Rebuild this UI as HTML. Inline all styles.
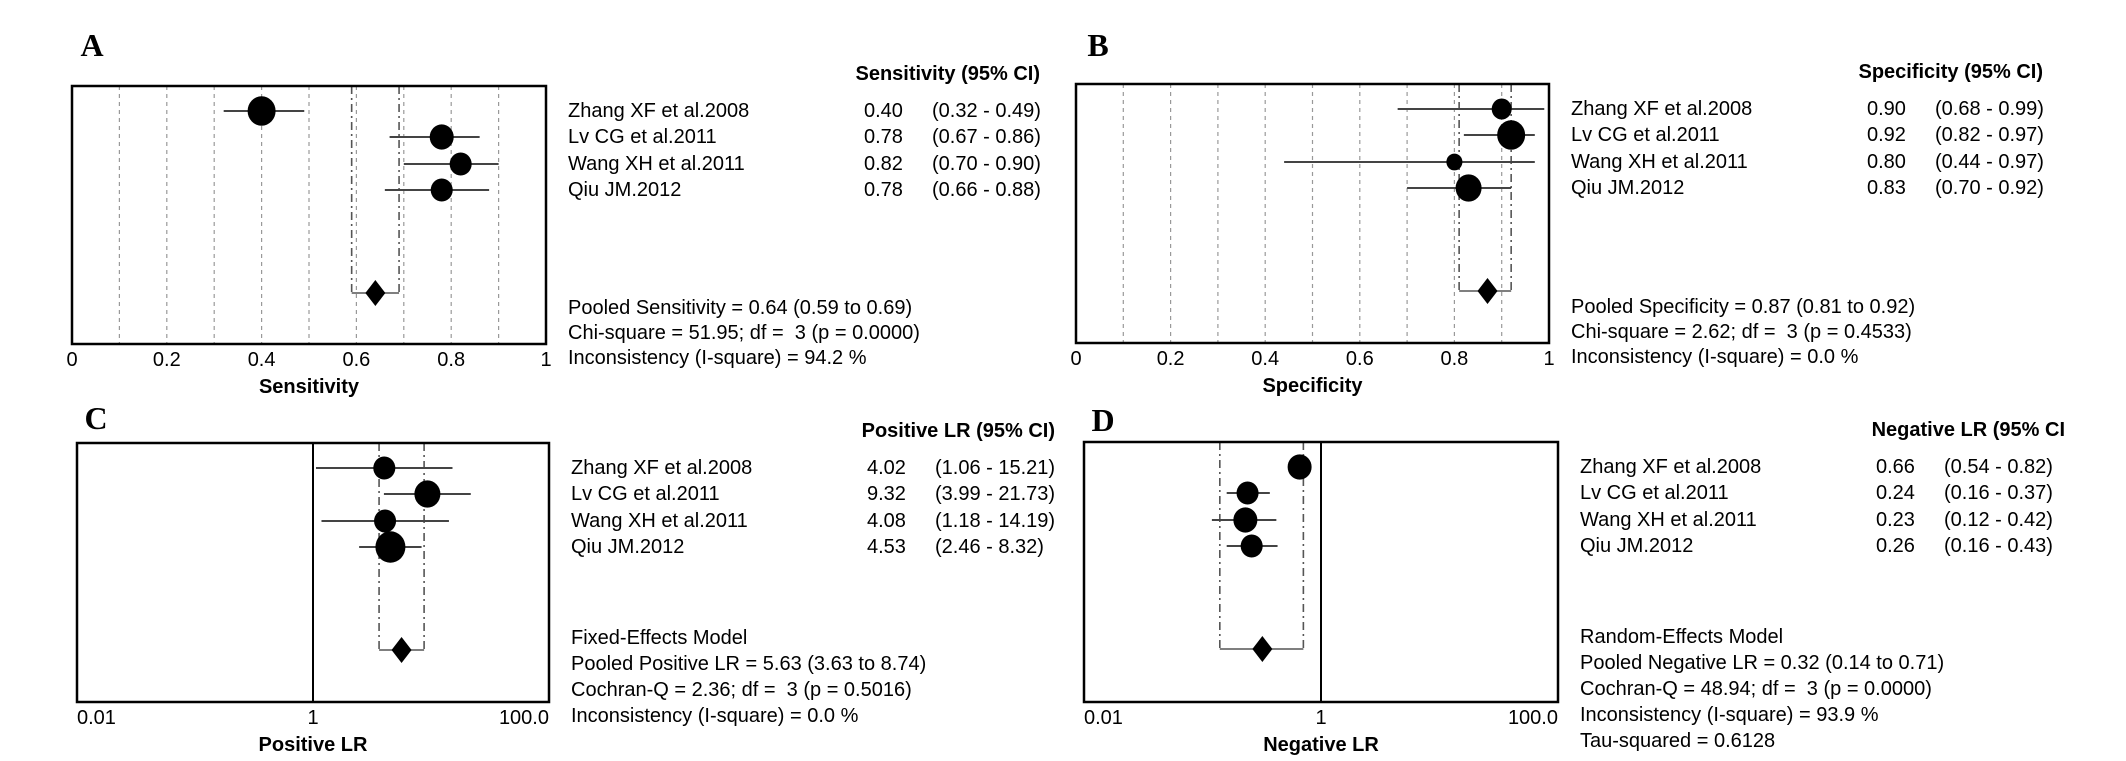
<!DOCTYPE html>
<html><head><meta charset="utf-8"><style>
html,body{margin:0;padding:0;background:#fff;}
svg{display:block;font-family:"Liberation Sans",Arial,sans-serif;}
svg text{white-space:pre;}
</style></head><body>
<svg id="fig" width="2126" height="761" viewBox="0 0 2126 761"></svg>
<script>
const studies = ["Zhang XF et al.2008","Lv CG et al.2011","Wang XH et al.2011","Qiu JM.2012"];
// Panel A: sensitivity
const sensEst = [0.40,0.78,0.82,0.78];
const sensLo = [0.32,0.67,0.70,0.66];
const sensHi = [0.49,0.86,0.90,0.88];
const sensWeight = [14,12,11,11];
const sensPooled = [0.64,0.59,0.69];
// Panel B: specificity
const specEst = [0.90,0.92,0.80,0.83];
const specLo = [0.68,0.82,0.44,0.70];
const specHi = [0.99,0.97,0.97,0.92];
const specWeight = [10,14,8,13];
const specPooled = [0.87,0.81,0.92];
// Panel C: positive LR
const plrEst = [4.02,9.32,4.08,4.53];
const plrLo = [1.06,3.99,1.18,2.46];
const plrHi = [15.21,21.73,14.19,8.32];
const plrWeight = [11,13,11,15];
const plrPooled = [5.63,3.63,8.74];
// Panel D: negative LR
const nlrEst = [0.66,0.24,0.23,0.26];
const nlrLo = [0.54,0.16,0.12,0.16];
const nlrHi = [0.82,0.37,0.42,0.43];
const nlrWeight = [12,11,12,11];
const nlrPooled = [0.32,0.14,0.71];
const linTicks = ["0","0.2","0.4","0.6","0.8","1"];
const logTicks = ["0.01","1","100.0"];

const NS="http://www.w3.org/2000/svg";
const svg=document.getElementById('fig');
function el(tag,attrs,parent){const e=document.createElementNS(NS,tag);for(const k in attrs)e.setAttribute(k,attrs[k]);(parent||svg).appendChild(e);return e;}
function txt(s,x,y,attrs,parent){const t=el('text',Object.assign({x:x,y:y,'font-size':20,fill:'#000','dominant-baseline':'central'},attrs||{}),parent);t.textContent=s;return t;}

function panel(o){
  const g=el('g',{});
  
  
  const L=o.x0,R=o.x1,T=o.y0,B=o.y1;
  const sx = o.log ? (v=>(L+R)/2+Math.log10(v)*(R-L)/4) : (v=>L+v*(R-L));
  const rowY=[T+25,T+51,T+78,T+104];
  const poolY=T+207;
  const lt=txt(o.letter,o.letterX,o.letterY,{'font-family':'"Liberation Serif",serif','font-weight':'bold','font-size':32,'text-anchor':'middle'},g);
  
  
  if(!o.log){
    for(let i=1;i<10;i++){const gl=el('line',{x1:sx(i/10),x2:sx(i/10),y1:T,y2:B,stroke:'#999','stroke-width':1.2,'stroke-dasharray':'4,4'},g);
      
      }
  } else {
    const rl=el('line',{x1:sx(1),x2:sx(1),y1:T,y2:B,stroke:'#000','stroke-width':2},g);
    
    
  }
  [o.pooled[1],o.pooled[2]].forEach(v=>{const pl=el('line',{x1:sx(v),x2:sx(v),y1:T,y2:poolY,stroke:'#555','stroke-width':1.6,'stroke-dasharray':'8,4,2,4'},g);
    
    });
  const br=el('line',{x1:sx(o.pooled[1]),x2:sx(o.pooled[2]),y1:poolY,y2:poolY,stroke:'#555','stroke-width':1.6},g);
  
  
  const px=sx(o.pooled[0]);
  const dm=el('polygon',{points:`${px-10},${poolY} ${px},${poolY-13} ${px+10},${poolY} ${px},${poolY+13}`,fill:'#000'},g);
  
  
  for(let i=0;i<4;i++){
    const w=el('line',{x1:sx(o.lo[i]),x2:sx(o.hi[i]),y1:rowY[i],y2:rowY[i],stroke:'#444','stroke-width':2},g);
    
    
    const r=o.w[i];
    const c=el('ellipse',{cx:sx(o.est[i]),cy:rowY[i],rx:r,ry:r*1.05,fill:'#000'},g);
    
    
  }
  const bx=el('rect',{x:L,y:T,width:R-L,height:B-T,fill:'none',stroke:'#000','stroke-width':2.5},g);
  
  
  const ticks=o.log?logTicks:linTicks;
  ticks.forEach((t,i)=>{
    let x,anchor='middle';
    if(o.log){x=[L,(L+R)/2,R][i];anchor=['start','middle','end'][i];}
    else x=sx(parseFloat(t));
    const tk=txt(t,x,B+16,{'text-anchor':anchor},g);
    
    
  });
  const at=txt(o.axis,(L+R)/2,B+43,{'text-anchor':'middle','font-weight':'bold'},g);
  
  
  const tx=R+22;
  const hd=txt(o.header,o.headerR,T-12,{'text-anchor':'end','font-weight':'bold'},g);
  
  
  for(let i=0;i<4;i++){
    const a=txt(studies[i],tx,rowY[i],{},g);
    
    
    const b=txt(o.est[i].toFixed(2),tx+296,rowY[i],{},g);
    
    
    const c=txt('('+o.lo[i].toFixed(2)+' - '+o.hi[i].toFixed(2)+(o.noClose?'':')'),tx+364,rowY[i],{},g);
    
    
  }
  o.stats.forEach((s,i)=>{const st=txt(s,tx,o.statsY+i*o.statsGap,{},g);
    
    });
}
panel({id:'sensitivity',letter:'A',letterX:92,letterY:45,x0:72,x1:546,y0:86,y1:344,est:sensEst,lo:sensLo,hi:sensHi,w:sensWeight,pooled:sensPooled,axis:'Sensitivity',header:'Sensitivity (95% CI)',headerR:1040,
  stats:['Pooled Sensitivity = 0.64 (0.59 to 0.69)','Chi-square = 51.95; df =  3 (p = 0.0000)','Inconsistency (I-square) = 94.2 %'],statsY:308,statsGap:25});
panel({id:'specificity',letter:'B',letterX:1098,letterY:45,x0:1076,x1:1549,y0:84,y1:343,est:specEst,lo:specLo,hi:specHi,w:specWeight,pooled:specPooled,axis:'Specificity',header:'Specificity (95% CI)',headerR:2043,
  stats:['Pooled Specificity = 0.87 (0.81 to 0.92)','Chi-square = 2.62; df =  3 (p = 0.4533)','Inconsistency (I-square) = 0.0 %'],statsY:307,statsGap:25});
panel({id:'positive-lr',letter:'C',letterX:96,letterY:418,log:true,x0:77,x1:549,y0:443,y1:702,est:plrEst,lo:plrLo,hi:plrHi,w:plrWeight,pooled:plrPooled,axis:'Positive LR',header:'Positive LR (95% CI)',headerR:1055,
  stats:['Fixed-Effects Model','Pooled Positive LR = 5.63 (3.63 to 8.74)','Cochran-Q = 2.36; df =  3 (p = 0.5016)','Inconsistency (I-square) = 0.0 %'],statsY:638,statsGap:26});
panel({id:'negative-lr',letter:'D',letterX:1103,letterY:420,log:true,x0:1084,x1:1558,y0:442,y1:702,est:nlrEst,lo:nlrLo,hi:nlrHi,w:nlrWeight,pooled:nlrPooled,axis:'Negative LR',header:'Negative LR (95% CI',headerR:2065,
  stats:['Random-Effects Model','Pooled Negative LR = 0.32 (0.14 to 0.71)','Cochran-Q = 48.94; df =  3 (p = 0.0000)','Inconsistency (I-square) = 93.9 %','Tau-squared = 0.6128'],statsY:637,statsGap:26});
</script>
</body></html>
